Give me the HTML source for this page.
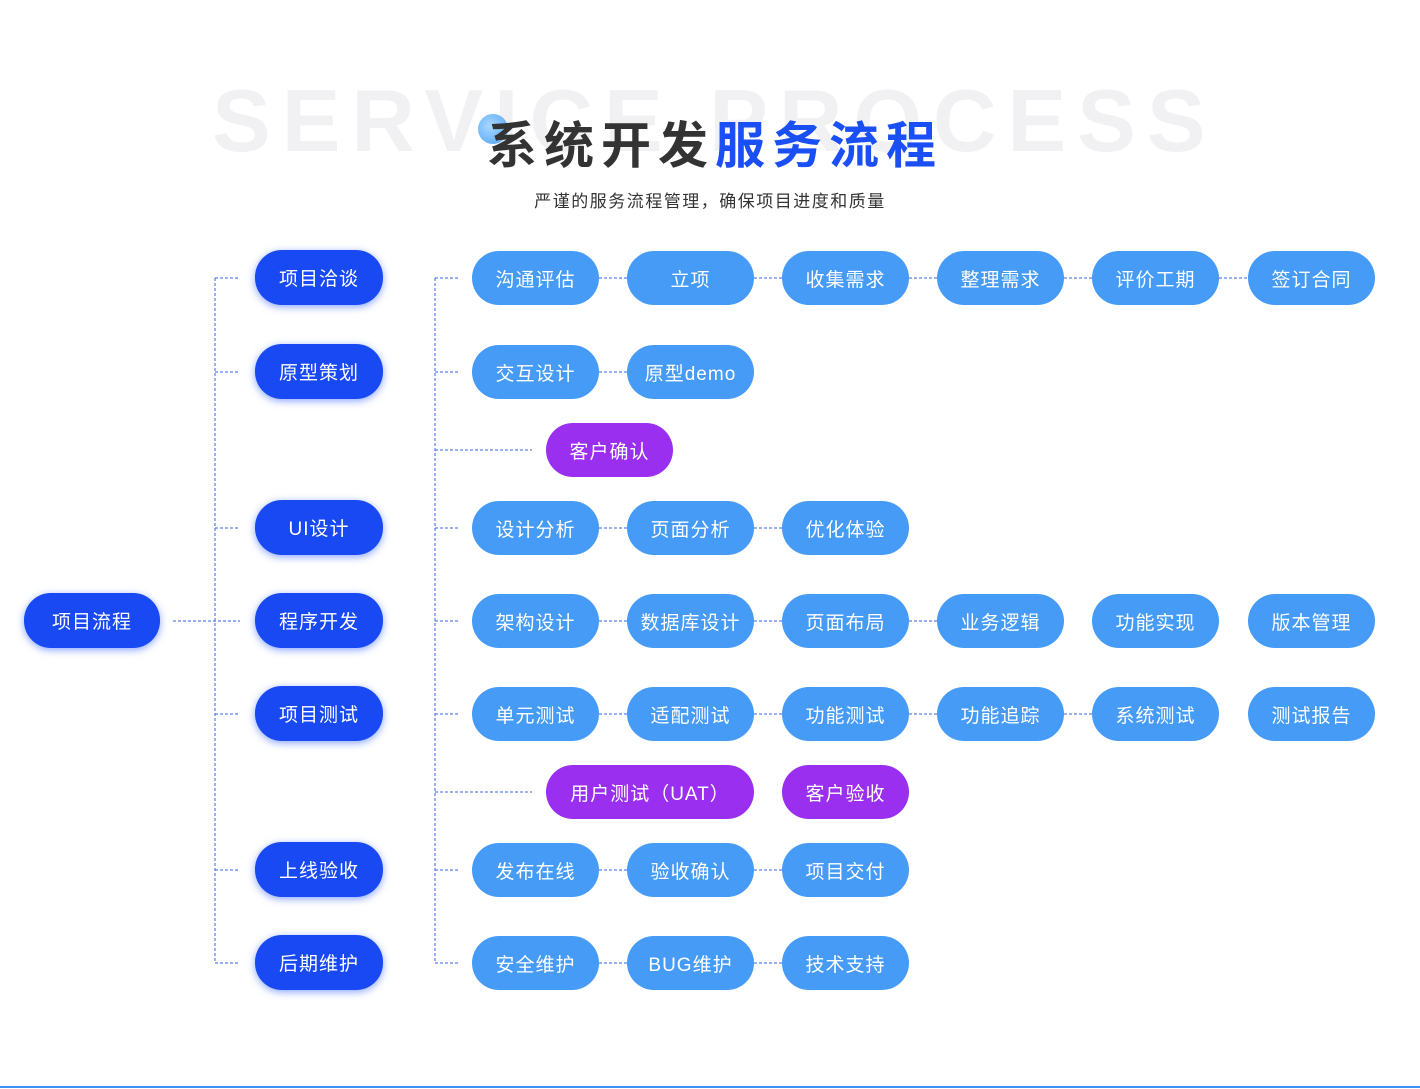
<!DOCTYPE html>
<html><head><meta charset="utf-8"><style>
body{margin:0;width:1420px;height:1089px;background:#fff;position:relative;overflow:hidden;font-family:"Liberation Sans","Noto Sans CJK SC",sans-serif}
.p{position:absolute;height:54px;border-radius:27px;color:#fff;font-size:19px;display:flex;align-items:center;justify-content:center;letter-spacing:1px;box-sizing:border-box}
.d{background:#1849f2;box-shadow:0 2px 8px rgba(40,90,255,.55);width:128px;height:55px}
.l{background:#459bf6;width:127px}
.u{background:#9a2ff0;}
#bg{position:absolute;left:212px;top:70px;font-size:88px;font-weight:bold;color:#f1f1f3;letter-spacing:11px;white-space:nowrap;font-family:"Liberation Sans",sans-serif}
#t{position:absolute;left:487px;top:106px;font-size:50px;font-weight:bold;color:#333;letter-spacing:7px;white-space:nowrap;font-family:"Liberation Sans","Noto Sans CJK SC",sans-serif}
#t span{color:#1a4ff5}
#s{position:absolute;left:0;width:1420px;top:187px;text-align:center;font-size:17px;color:#333;letter-spacing:1.5px}
#dot{position:absolute;left:478px;top:114px;width:30px;height:30px;border-radius:50%;background:radial-gradient(circle at 40% 40%,#a8d8ff,#4aa0f5)}
</style></head><body>
<div id="bg">SERVICE PROCESS</div>
<div id="dot"></div>
<div id="t">系统开发<span>服务流程</span></div>
<div id="s">严谨的服务流程管理，确保项目进度和质量</div>
<svg width="1420" height="1089" style="position:absolute;left:0;top:0" fill="none" stroke="#3366ee" stroke-width="1" stroke-dasharray="3,2">
<path d="M215 278V963M215 278H240M215 372H240M215 528H240M173 621H240M215 714H240M215 870H240M215 963H240"/>
<path d="M435 278V963M435 278H460M435 372H460M435 450H532M435 528H460M435 621H460M435 714H460M435 792H532M435 870H460M435 963H460"/>
<path d="M599 278H627M754 278H782M909 278H937M1064 278H1092M1219 278H1248"/>
<path d="M599 372H627M599 528H627M754 528H782M599 621H627M754 621H782M909 621H937"/>
<path d="M599 714H627M754 714H782M909 714H937M1064 714H1092"/>
<path d="M599 870H627M754 870H782M599 963H627M754 963H782"/>
</svg>
<div style="position:absolute;left:0;top:1086px;width:1420px;height:2px;background:#3d8ff2"></div>

<div class="p d" style="left:24px;top:593px;width:136px">项目流程</div>
<div class="p d" style="left:255px;top:250px">项目洽谈</div>
<div class="p d" style="left:255px;top:344px">原型策划</div>
<div class="p d" style="left:255px;top:500px">UI设计</div>
<div class="p d" style="left:255px;top:593px">程序开发</div>
<div class="p d" style="left:255px;top:686px">项目测试</div>
<div class="p d" style="left:255px;top:842px">上线验收</div>
<div class="p d" style="left:255px;top:935px">后期维护</div>

<div class="p l" style="left:472px;top:251px">沟通评估</div>
<div class="p l" style="left:627px;top:251px">立项</div>
<div class="p l" style="left:782px;top:251px">收集需求</div>
<div class="p l" style="left:937px;top:251px">整理需求</div>
<div class="p l" style="left:1092px;top:251px">评价工期</div>
<div class="p l" style="left:1248px;top:251px">签订合同</div>

<div class="p l" style="left:472px;top:345px">交互设计</div>
<div class="p l" style="left:627px;top:345px">原型demo</div>

<div class="p u" style="left:546px;top:423px;width:127px">客户确认</div>

<div class="p l" style="left:472px;top:501px">设计分析</div>
<div class="p l" style="left:627px;top:501px">页面分析</div>
<div class="p l" style="left:782px;top:501px">优化体验</div>

<div class="p l" style="left:472px;top:594px">架构设计</div>
<div class="p l" style="left:627px;top:594px">数据库设计</div>
<div class="p l" style="left:782px;top:594px">页面布局</div>
<div class="p l" style="left:937px;top:594px">业务逻辑</div>
<div class="p l" style="left:1092px;top:594px">功能实现</div>
<div class="p l" style="left:1248px;top:594px">版本管理</div>

<div class="p l" style="left:472px;top:687px">单元测试</div>
<div class="p l" style="left:627px;top:687px">适配测试</div>
<div class="p l" style="left:782px;top:687px">功能测试</div>
<div class="p l" style="left:937px;top:687px">功能追踪</div>
<div class="p l" style="left:1092px;top:687px">系统测试</div>
<div class="p l" style="left:1248px;top:687px">测试报告</div>

<div class="p u" style="left:546px;top:765px;width:208px">用户测试（UAT）</div>
<div class="p u" style="left:782px;top:765px;width:127px">客户验收</div>

<div class="p l" style="left:472px;top:843px">发布在线</div>
<div class="p l" style="left:627px;top:843px">验收确认</div>
<div class="p l" style="left:782px;top:843px">项目交付</div>

<div class="p l" style="left:472px;top:936px">安全维护</div>
<div class="p l" style="left:627px;top:936px">BUG维护</div>
<div class="p l" style="left:782px;top:936px">技术支持</div>
</body></html>
